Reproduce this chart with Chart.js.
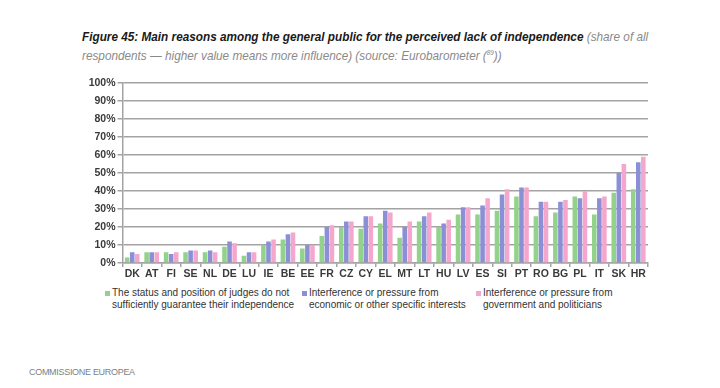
<!DOCTYPE html>
<html lang="en">
  <head>
    <meta charset="UTF-8" />
    <title>Figure 45</title>
    <script src="https://cdn.jsdelivr.net/npm/chart.js@4"></script>
    <style>
      body { margin: 0; background: #fff; width: 720px; height: 388px; position: relative; overflow: hidden; font-family: "Liberation Sans", Arial, sans-serif; }
      .title { position: absolute; left: 82px; top: 29px; font-style: italic; font-size: 13px; line-height: 16px; color: #8a8a8a; white-space: nowrap; transform: scaleX(0.905); transform-origin: left top; }
      .title b { color: #1a1a1a; }
      .title sup { font-size: 7px; }
      #wrap { position: absolute; left: 80px; top: 70px; }
      .legend { position: absolute; top: 287px; font-size: 10px; line-height: 12px; color: #333; white-space: nowrap; }
      .legend i { position: absolute; left: -7px; top: 4px; width: 5px; height: 5px; }
      .footer { position: absolute; left: 29px; top: 367px; font-size: 9px; color: #7a7f86; letter-spacing: -0.3px; }
    </style>
  </head>
  <body>
    <div class="title">
      <b>Figure 45: Main reasons among the general public for the perceived lack of independence</b> (share of all<br />
      respondents — higher value means more influence) (source: Eurobarometer (<sup>89</sup>))
    </div>

    <div id="wrap"><canvas id="myChart" width="580" height="211"></canvas></div>

    <div class="legend" style="left: 112px"><i style="background:#92d28a"></i>The status and position of judges do not<br />sufficiently guarantee their independence</div>
    <div class="legend" style="left: 309px"><i style="background:#8a8fd6"></i>Interference or pressure from<br />economic or other specific interests</div>
    <div class="legend" style="left: 483px"><i style="background:#f4a6cc"></i>Interference or pressure from<br />government and politicians</div>

    <div class="footer">COMMISSIONE EUROPEA</div>

    <script>
      // categorie e valori (%)
      var countries = ["DK", "AT", "FI", "SE", "NL", "DE", "LU", "IE", "BE", "EE", "FR", "CZ", "CY", "EL",
        "MT", "LT", "HU", "LV", "ES", "SI", "PT", "RO", "BG", "PL", "IT", "SK", "HR"];
      var statusJudges = [3, 6, 6, 6, 6, 9, 4, 10, 13, 8, 15, 20, 19, 22, 14, 23, 20, 27, 27, 29, 37, 26, 28, 37, 27, 39, 41];
      var economicInterests = [6, 6, 5, 7, 7, 12, 6, 12, 16, 10, 20, 23, 26, 29, 20, 26, 22, 31, 32, 38, 42, 34, 34, 36, 36, 50, 56];
      var governmentPoliticians = [5, 6, 6, 7, 6, 11, 6, 13, 17, 10, 21, 23, 26, 28, 23, 28, 24, 31, 36, 41, 42, 34, 35, 40, 37, 55, 59];
      var yTicks = [0, 10, 20, 30, 40, 50, 60, 70, 80, 90, 100];

      var gridColor = "#a3a3a3";
      var tickFont = { family: "'Liberation Sans', sans-serif", size: 10.5, weight: "bold" };

      var ctx = document.getElementById("myChart").getContext("2d");

      var chartData = {
        labels: countries,
        datasets: [
          { label: "The status and position of judges do not sufficiently guarantee their independence", data: statusJudges, backgroundColor: "#92d28a" },
          { label: "Interference or pressure from economic or other specific interests", data: economicInterests, backgroundColor: "#8a8fd6" },
          { label: "Interference or pressure from government and politicians", data: governmentPoliticians, backgroundColor: "#f4a6cc" },
        ],
      };

      var options = {
        responsive: false,
        animation: false,
        categoryPercentage: 0.78,
        barPercentage: 0.9,
        layout: { padding: { top: 13, right: 12, left: 0, bottom: 0 } },
        plugins: { legend: { display: false }, tooltip: { enabled: false } },
        scales: {
          x: {
            afterFit: function (scale) { scale.height = 18; },
            grid: { drawOnChartArea: false, offset: true, tickLength: 4, color: gridColor, lineWidth: 1.5 },
            border: { color: gridColor, width: 1.5 },
            ticks: { font: tickFont, color: "#3a3a3a", padding: 1, maxRotation: 0, autoSkip: false },
          },
          y: {
            min: 0,
            max: 100,
            afterFit: function (scale) { scale.width = 42.5; },
            afterBuildTicks: function (scale) { scale.ticks = yTicks.map(function (v) { return { value: v }; }); },
            grid: { color: gridColor, lineWidth: 1.5, tickLength: 5 },
            border: { color: gridColor, width: 1.5 },
            ticks: { font: tickFont, color: "#3a3a3a", padding: 2, callback: function (v) { return v + "%"; } },
          },
        },
      };

      new Chart(ctx, { type: "bar", data: chartData, options: options });
    </script>
  </body>
</html>
